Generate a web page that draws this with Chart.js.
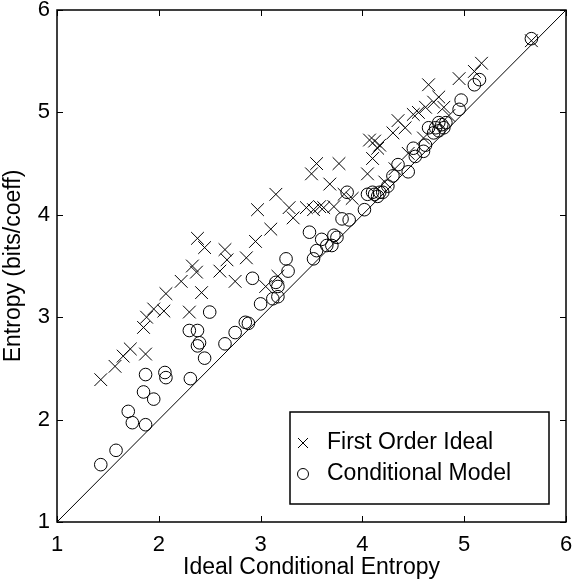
<!DOCTYPE html>
<html>
<head>
<meta charset="utf-8">
<script src="https://cdn.jsdelivr.net/npm/chart.js@4"></script>
<style>
  html, body { margin: 0; padding: 0; background: #fff; }
  #wrap { width: 576px; height: 585px; }
</style>
</head>
<body>
<div id="wrap"><canvas id="entropy-chart"></canvas></div>
<script>
// series
const firstOrderX = [1.43, 1.57, 1.65, 1.72, 1.85, 1.87, 1.88, 1.95, 2.05, 2.07, 2.22, 2.30, 2.33, 2.37, 2.38, 2.42, 2.45, 2.60, 2.65, 2.67, 2.75, 2.86, 2.95, 2.97, 3.05, 3.10, 3.15, 3.17, 3.28, 3.32, 3.45, 3.50, 3.55, 3.52, 3.58, 3.62, 3.68, 3.72, 3.77, 3.82, 3.90, 4.05, 4.07, 4.10, 4.12, 4.15, 4.17, 4.22, 4.30, 4.32, 4.35, 4.42, 4.45, 4.50, 4.55, 4.60, 4.62, 4.65, 4.70, 4.75, 4.80, 4.85, 4.95, 5.10, 5.17, 5.66];
const firstOrderY = [2.39, 2.52, 2.62, 2.69, 2.90, 2.64, 3.00, 3.08, 3.06, 3.23, 3.35, 3.05, 3.50, 3.44, 3.77, 3.24, 3.68, 3.45, 3.66, 3.56, 3.35, 3.58, 3.74, 4.05, 3.30, 3.86, 4.20, 3.40, 4.07, 3.97, 4.07, 4.40, 4.50, 4.05, 4.08, 4.07, 4.30, 4.08, 4.50, 4.20, 4.16, 4.40, 4.73, 4.55, 4.72, 4.65, 4.68, 4.32, 4.80, 4.45, 4.92, 4.85, 4.60, 4.98, 5.00, 4.75, 5.05, 5.27, 5.10, 5.15, 5.05, 4.97, 5.33, 5.40, 5.48, 5.70];

const conditionalX = [1.43, 1.58, 1.70, 1.74, 1.85, 1.87, 1.87, 1.95, 2.06, 2.07, 2.30, 2.31, 2.38, 2.38, 2.40, 2.45, 2.50, 2.65, 2.75, 2.85, 2.88, 2.92, 3.00, 3.12, 3.15, 3.17, 3.17, 3.25, 3.27, 3.48, 3.52, 3.55, 3.60, 3.65, 3.70, 3.72, 3.75, 3.80, 3.85, 3.87, 4.02, 4.05, 4.10, 4.12, 4.15, 4.17, 4.20, 4.25, 4.30, 4.35, 4.45, 4.50, 4.52, 4.60, 4.62, 4.65, 4.70, 4.72, 4.75, 4.75, 4.78, 4.80, 4.82, 4.95, 4.97, 5.10, 5.15, 5.66];
const conditionalY = [1.56, 1.70, 2.08, 1.97, 2.27, 1.95, 2.44, 2.20, 2.46, 2.41, 2.87, 2.40, 2.72, 2.87, 2.75, 2.60, 3.05, 2.74, 2.85, 2.95, 2.94, 3.38, 3.13, 3.18, 3.34, 3.30, 3.20, 3.57, 3.45, 3.83, 3.57, 3.65, 3.76, 3.70, 3.70, 3.80, 3.78, 3.96, 4.22, 3.95, 4.05, 4.20, 4.22, 4.20, 4.18, 4.22, 4.22, 4.28, 4.38, 4.49, 4.42, 4.65, 4.57, 4.62, 4.68, 4.85, 4.80, 4.85, 4.90, 4.82, 4.88, 4.85, 4.90, 5.03, 5.12, 5.27, 5.32, 5.72];

const seriesLabels = ['First Order Ideal', 'Conditional Model'];
const axisTicks = [1, 2, 3, 4, 5, 6];
const diagonal = [1, 6];

function toPoints(xs, ys) {
    return xs.map((x, i) => ({ x: x, y: ys[i] }));
}

Chart.defaults.color = '#000000';
Chart.defaults.font.family = '"Liberation Sans", Arial, Helvetica, sans-serif';
Chart.defaults.font.size = 22;

// keep the plot box where the reference has it, labels may overhang
function pinScale(scale, size) {
    if (scale.isHorizontal()) scale.height = size; else scale.width = size;
    scale.paddingTop = 0;
    scale.paddingBottom = 0;
    scale.paddingLeft = 0;
    scale.paddingRight = 0;
}

// MATLAB style frame: box all round, ticks pointing inward, legend in lower right
const framePlugin = {
    id: 'frame',
    afterDraw(chart) {
        const ctx = chart.ctx;
        const area = chart.chartArea;
        const xs = chart.scales.x;
        const ys = chart.scales.y;
        const tick = 6;
        ctx.save();
        ctx.strokeStyle = '#000';
        ctx.lineWidth = 1;
        axisTicks.forEach(v => {
            const px = Math.round(xs.getPixelForValue(v)) + 0.5;
            ctx.beginPath();
            ctx.moveTo(px, area.bottom); ctx.lineTo(px, area.bottom - tick);
            ctx.moveTo(px, area.top); ctx.lineTo(px, area.top + tick);
            ctx.stroke();
            const py = Math.round(ys.getPixelForValue(v)) + 0.5;
            ctx.beginPath();
            ctx.moveTo(area.left, py); ctx.lineTo(area.left + tick, py);
            ctx.moveTo(area.right, py); ctx.lineTo(area.right - tick, py);
            ctx.stroke();
        });
        ctx.lineWidth = 1.5;
        ctx.strokeRect(area.left, area.top, area.right - area.left, area.bottom - area.top);

        // legend box
        const lx = 290, ly = 412, lw = 259, lh = 92;
        ctx.fillStyle = '#fff';
        ctx.fillRect(lx, ly, lw, lh);
        ctx.lineWidth = 1.5;
        ctx.strokeRect(lx, ly, lw, lh);
        ctx.lineWidth = 1;
        ctx.fillStyle = '#000';
        ctx.font = '23px "Liberation Sans", Arial, sans-serif';
        ctx.textBaseline = 'middle';
        const rows = [443, 474];
        // cross marker
        ctx.beginPath();
        ctx.moveTo(298, rows[0] - 5); ctx.lineTo(308, rows[0] + 5);
        ctx.moveTo(308, rows[0] - 5); ctx.lineTo(298, rows[0] + 5);
        ctx.stroke();
        // circle marker
        ctx.beginPath();
        ctx.arc(303, rows[1], 5.5, 0, Math.PI * 2);
        ctx.stroke();
        ctx.fillText(seriesLabels[0], 327, rows[0]);
        ctx.fillText(seriesLabels[1], 327, rows[1]);
        ctx.restore();
    }
};

const ctx = document.getElementById('entropy-chart');
new Chart(ctx, {
    type: 'scatter',
    data: {
        datasets: [
            {
                label: 'diagonal',
                data: toPoints(diagonal, diagonal),
                showLine: true,
                borderColor: '#000',
                borderWidth: 1,
                pointRadius: 0
            },
            {
                label: seriesLabels[0],
                data: toPoints(firstOrderX, firstOrderY),
                pointStyle: 'crossRot',
                pointRadius: 9,
                borderColor: '#000',
                borderWidth: 1,
                backgroundColor: 'transparent'
            },
            {
                label: seriesLabels[1],
                data: toPoints(conditionalX, conditionalY),
                pointStyle: 'circle',
                pointRadius: 6.3,
                borderColor: '#000',
                borderWidth: 1,
                backgroundColor: 'transparent'
            }
        ]
    },
    options: {
        responsive: true,
        maintainAspectRatio: false,
        animation: false,
        layout: {
            padding: { top: 10, right: 6, left: 0, bottom: 0 }
        },
        scales: {
            x: {
                type: 'linear',
                min: 1,
                max: 6,
                grid: { display: false, drawTicks: false },
                border: { display: false },
                ticks: { stepSize: 1, padding: 10 },
                title: { display: true, text: 'Ideal Conditional Entropy', font: { size: 23 }, padding: { top: 0, bottom: 4 } },
                afterFit(scale) { pinScale(scale, 63); }
            },
            y: {
                type: 'linear',
                min: 1,
                max: 6,
                grid: { display: false, drawTicks: false },
                border: { display: false },
                ticks: { stepSize: 1, padding: 7 },
                title: { display: true, text: 'Entropy (bits/coeff)', font: { size: 23 }, padding: { top: 0, bottom: 0 } },
                afterFit(scale) { pinScale(scale, 57); }
            }
        },
        plugins: {
            legend: { display: false },
            tooltip: { enabled: false }
        }
    },
    plugins: [framePlugin]
});
</script>
</body>
</html>
